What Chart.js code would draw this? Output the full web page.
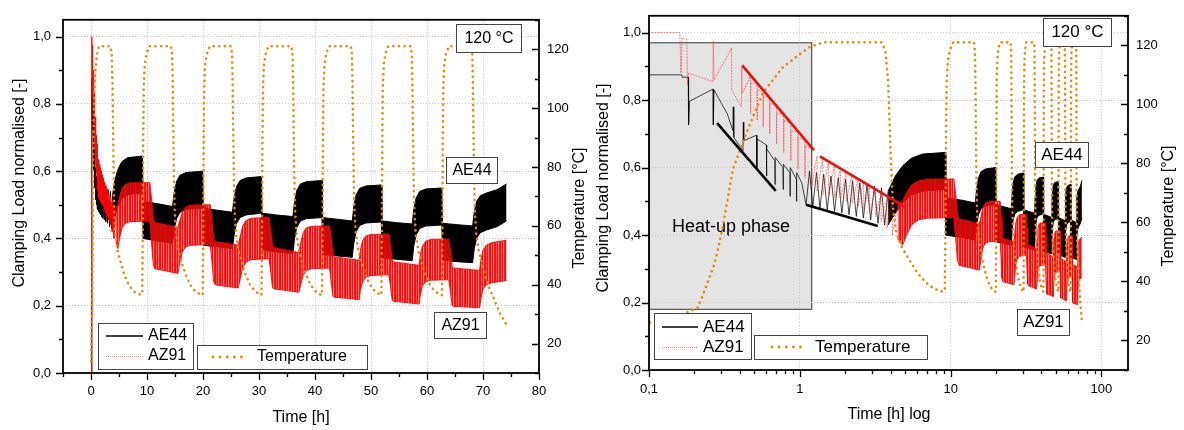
<!DOCTYPE html>
<html>
<head>
<meta charset="utf-8">
<script src="https://cdn.jsdelivr.net/npm/chart.js@4.4.1/dist/chart.umd.min.js"></script>
<style>
  body { margin: 0; background: #fff; }
  #wrap { position: relative; width: 1184px; height: 430px; }
  canvas { position: absolute; top: 0; }
  #linChart { left: 0; }
  #logChart { left: 590px; }
</style>
</head>
<body>
<div id="wrap">
  <canvas id="linChart" width="590" height="430"></canvas>
  <canvas id="logChart" width="594" height="430"></canvas>
</div>
<script>
// ---- Messdaten (Zeit in h, Klemmkraft normiert, Temperatur in °C) ----

// AE44: erste Lastwechsel als Einzellinie
const ae44StartTime = [0.01, 0.1, 0.165, 0.166, 0.182, 0.183, 0.186, 0.266, 0.267, 0.27, 0.33, 0.36, 0.362, 0.365, 0.42, 0.422, 0.425,
  0.517, 0.519, 0.521, 0.6, 0.602, 0.604, 0.683, 0.685, 0.687, 0.774, 0.776, 0.778, 0.86, 0.862, 0.864, 0.95, 0.952, 0.954, 1.03,
  1.1, 1.16, 1.22, 1.29, 1.36, 1.44, 1.52, 1.61, 1.7, 1.8, 1.9, 2.01, 2.12, 2.24, 2.37, 2.5, 2.64, 2.79, 2.95, 3.12, 3.3, 3.48, 3.65, 3.85];
const ae44StartLoad = [0, 0.875, 0.875, 0.868, 0.868, 0.727, 0.797, 0.833, 0.727, 0.83, 0.76, 0.71, 0.78, 0.69, 0.65, 0.735, 0.68,
  0.696, 0.60, 0.685, 0.667, 0.575, 0.655, 0.62, 0.55, 0.63, 0.60, 0.535, 0.61, 0.585, 0.515, 0.60, 0.565, 0.50, 0.585, 0.555,
  0.49, 0.59, 0.485, 0.585, 0.48, 0.58, 0.475, 0.575, 0.47, 0.57, 0.465, 0.565, 0.46, 0.56, 0.455, 0.555, 0.45, 0.55, 0.445, 0.545, 0.435, 0.54, 0.43, 0.53];

// AZ91: erste Lastwechsel als Einzellinie
const az91StartTime = [0.01, 0.1, 0.16, 0.163, 0.166, 0.178, 0.18, 0.183, 0.265, 0.267, 0.27, 0.33, 0.352, 0.354, 0.41, 0.412, 0.415,
  0.47, 0.472, 0.474, 0.52, 0.522, 0.524, 0.57, 0.572, 0.574, 0.63, 0.632, 0.634, 0.7, 0.702, 0.704, 0.78, 0.782, 0.784,
  0.87, 0.872, 0.874, 0.97, 0.972, 0.974, 1.08, 1.082, 1.084, 1.2, 1.202, 1.3, 1.302, 1.42, 1.422, 1.55, 1.552, 1.7, 1.702,
  1.86, 1.862, 2.03, 2.032, 2.22, 2.222, 2.43, 2.432, 2.65, 2.652, 2.9, 2.902, 3.17, 3.172, 3.46, 3.462, 3.78, 3.782, 4.1, 4.102, 4.45];
const az91StartLoad = [0, 1.0, 1.0, 0.88, 0.985, 0.98, 0.845, 0.88, 0.855, 0.975, 0.86, 0.93, 0.955, 0.83, 0.78, 0.90, 0.82,
  0.87, 0.76, 0.85, 0.85, 0.74, 0.83, 0.83, 0.72, 0.81, 0.81, 0.70, 0.79, 0.785, 0.67, 0.76, 0.76, 0.645, 0.74,
  0.73, 0.62, 0.71, 0.705, 0.595, 0.69, 0.68, 0.57, 0.665, 0.655, 0.545, 0.635, 0.53, 0.628, 0.52, 0.62, 0.515, 0.61, 0.51,
  0.60, 0.505, 0.59, 0.50, 0.58, 0.495, 0.568, 0.485, 0.557, 0.475, 0.545, 0.465, 0.534, 0.455, 0.522, 0.44, 0.51, 0.42, 0.50, 0.40, 0.49];

// AE44: Schwingbreite (obere / untere Huellkurve) ab ca. 4 h
const ae44BandTime = [3.85, 4.3, 4.8, 5.5, 6.5, 9.2, 9.3, 12.0, 14.55, 14.9, 15.3, 15.9, 17.0, 19.95, 20.05, 22.5, 25.25,
  25.55, 25.95, 26.6, 27.7, 30.45, 30.55, 33.0, 36.05, 36.35, 36.75, 37.4, 38.5, 41.25, 41.35, 44.0, 46.65,
  46.95, 47.35, 48.0, 49.1, 51.85, 51.95, 54.6, 57.35, 57.65, 58.05, 58.7, 59.8, 62.65, 62.75, 65.4, 68.15,
  68.45, 68.85, 69.5, 70.6, 72.5, 74.2];
const ae44Upper = [0.53, 0.575, 0.605, 0.628, 0.64, 0.645, 0.51, 0.503, 0.495, 0.54, 0.57, 0.588, 0.596, 0.60, 0.49, 0.484, 0.478,
  0.52, 0.553, 0.572, 0.58, 0.584, 0.475, 0.47, 0.465, 0.51, 0.543, 0.562, 0.569, 0.572, 0.462, 0.457, 0.452,
  0.497, 0.53, 0.549, 0.556, 0.559, 0.452, 0.447, 0.443, 0.488, 0.52, 0.54, 0.547, 0.55, 0.445, 0.441, 0.437,
  0.48, 0.51, 0.527, 0.535, 0.545, 0.562];
const ae44Lower = [0.43, 0.465, 0.495, 0.518, 0.53, 0.535, 0.40, 0.392, 0.385, 0.43, 0.46, 0.478, 0.486, 0.49, 0.38, 0.375, 0.37,
  0.41, 0.443, 0.462, 0.47, 0.475, 0.365, 0.36, 0.355, 0.40, 0.433, 0.452, 0.459, 0.462, 0.352, 0.348, 0.344,
  0.387, 0.42, 0.439, 0.446, 0.449, 0.342, 0.338, 0.334, 0.378, 0.41, 0.43, 0.437, 0.44, 0.335, 0.331, 0.328,
  0.37, 0.40, 0.417, 0.425, 0.435, 0.452];

// AZ91: Schwingbreite ab ca. 4,5 h
const az91BandTime = [4.45, 4.8, 5.1, 5.5, 6.1, 7.0, 10.5, 10.8, 11.1, 11.4, 13.5, 15.5, 15.9, 16.3, 16.9, 17.8, 21.3,
  21.6, 21.9, 22.2, 24.3, 26.3, 26.7, 27.1, 27.7, 28.6, 31.8, 32.1, 32.4, 32.7, 35.0, 37.1, 37.5, 37.9, 38.5,
  39.4, 42.6, 42.9, 43.2, 43.5, 45.8, 47.9, 48.1, 48.5, 49.1, 50.0, 53.2, 53.5, 53.8, 54.1, 56.4, 58.6, 58.8,
  59.2, 59.8, 60.7, 63.9, 64.2, 64.5, 64.8, 67.2, 69.4, 69.6, 70.0, 70.6, 71.5, 74.2];
const az91Upper = [0.49, 0.50, 0.525, 0.548, 0.56, 0.565, 0.566, 0.52, 0.46, 0.447, 0.44, 0.432, 0.455, 0.478, 0.493, 0.499, 0.50,
  0.455, 0.40, 0.39, 0.385, 0.38, 0.41, 0.438, 0.453, 0.46, 0.462, 0.42, 0.378, 0.372, 0.365, 0.358, 0.39, 0.418, 0.432,
  0.436, 0.437, 0.40, 0.35, 0.345, 0.34, 0.335, 0.365, 0.393, 0.407, 0.412, 0.413, 0.375, 0.333, 0.33, 0.325, 0.32, 0.35,
  0.378, 0.392, 0.397, 0.398, 0.36, 0.315, 0.312, 0.308, 0.305, 0.335, 0.365, 0.38, 0.387, 0.395];
const az91Lower = [0.39, 0.37, 0.40, 0.43, 0.445, 0.45, 0.452, 0.39, 0.325, 0.31, 0.303, 0.296, 0.33, 0.36, 0.375, 0.38, 0.382,
  0.33, 0.272, 0.262, 0.257, 0.253, 0.285, 0.315, 0.33, 0.337, 0.34, 0.30, 0.255, 0.25, 0.245, 0.24, 0.265, 0.292, 0.305,
  0.31, 0.312, 0.27, 0.228, 0.225, 0.222, 0.218, 0.245, 0.272, 0.285, 0.29, 0.292, 0.255, 0.215, 0.213, 0.209, 0.205, 0.232,
  0.26, 0.272, 0.276, 0.277, 0.24, 0.20, 0.198, 0.196, 0.194, 0.22, 0.25, 0.262, 0.268, 0.275];

// Temperaturverlauf (Aufheizen, dann Zyklen 120 °C / Abkuehlen)
const tempTime = [0.02, 0.1, 0.15, 0.21, 0.24, 0.27, 0.29, 0.31, 0.33, 0.36, 0.44, 0.57, 0.77, 1.0, 1.17, 1.43, 3.5,
  3.7, 3.85, 3.95, 4.05, 4.15, 4.35, 4.7, 5.3, 6.0, 6.9, 7.8, 8.9, 9.15, 9.25, 9.32, 9.42, 9.6, 9.9, 10.4, 14.3,
  14.5, 14.6, 14.7, 14.8, 14.95, 15.2, 15.6, 16.2, 16.9, 17.7, 18.6, 19.6, 19.95, 20.05, 20.12, 20.22, 20.4, 20.7, 21.2, 25.0,
  25.2, 25.3, 25.4, 25.5, 25.65, 25.9, 26.3, 26.9, 27.6, 28.4, 29.3, 30.2, 30.45, 30.55, 30.62, 30.72, 30.9, 31.2, 31.7, 35.8,
  36.0, 36.1, 36.2, 36.3, 36.45, 36.7, 37.1, 37.7, 38.4, 39.2, 40.1, 41.0, 41.25, 41.35, 41.42, 41.52, 41.7, 42.0, 42.5, 46.4,
  46.6, 46.7, 46.8, 46.9, 47.05, 47.3, 47.7, 48.3, 49.0, 49.8, 50.7, 51.6, 51.85, 51.95, 52.02, 52.12, 52.3, 52.6, 53.1, 57.1,
  57.3, 57.4, 57.5, 57.6, 57.75, 58.0, 58.4, 59.0, 59.7, 60.5, 61.4, 62.3, 62.65, 62.75, 62.82, 62.92, 63.1, 63.4, 63.9, 67.9,
  68.1, 68.2, 68.3, 68.4, 68.55, 68.8, 69.2, 69.8, 70.5, 71.2, 71.8, 72.4, 73.1, 73.9, 74.3];
const tempValue = [14, 26, 28, 31, 38.5, 45.5, 52, 59, 67, 78, 90, 104, 112.5, 117, 119.5, 121, 121,
  118, 108, 92, 77, 65, 57, 52, 47.5, 43, 39.5, 37.5, 36.5, 37, 60, 90, 108, 115, 118.5, 121, 121,
  118, 108, 92, 77, 65, 57, 52, 47.5, 43.5, 40, 37.8, 36.6, 36.5, 60, 90, 108, 115, 118.5, 121, 121,
  118, 108, 92, 77, 65, 57, 52, 47.5, 43.5, 40, 37.8, 36.6, 36.5, 60, 90, 108, 115, 118.5, 121, 121,
  118, 108, 92, 77, 65, 57, 52, 47.5, 43.5, 40, 37.8, 36.6, 36.5, 60, 90, 108, 115, 118.5, 121, 121,
  118, 108, 92, 77, 65, 57, 52, 47.5, 43.5, 40, 37.8, 36.6, 36.5, 60, 90, 108, 115, 118.5, 121, 121,
  118, 108, 92, 77, 65, 57, 52, 47.5, 43.5, 40, 37.8, 36.6, 36.5, 60, 90, 108, 115, 118.5, 121, 121,
  118, 108, 92, 77, 65, 57, 52, 47.5, 42, 38.5, 36, 33, 30, 27.5, 26];

// Ausgleichsgeraden in der Aufheizphase (log. Darstellung)
const az91FitTime = [[0.415, 1.24], [1.36, 4.96]];
const az91FitLoad = [[0.903, 0.652], [0.633, 0.484]];
const ae44FitTime = [[0.283, 0.693], [1.10, 3.29]];
const ae44FitLoad = [[0.732, 0.531], [0.49, 0.427]];
const heatUpTime = [0.1, 1.2];
const heatUpLoad = [0.18, 0.97];

// Achsenteilung
const timeTickValues = [0, 10, 20, 30, 40, 50, 60, 70, 80];
const timeTickLabels = ['0', '10', '20', '30', '40', '50', '60', '70', '80'];
const timeMinor = [-5, 5, 15, 25, 35, 45, 55, 65, 75];
const logTickValues = [0.1, 1, 10, 100];
const logTickLabels = ['0,1', '1', '10', '100'];
const logMinor = [0.2, 0.3, 0.4, 0.5, 0.6, 0.7, 0.8, 0.9, 2, 3, 4, 5, 6, 7, 8, 9, 20, 30, 40, 50, 60, 70, 80, 90];
const loadTickValues = [0, 0.2, 0.4, 0.6, 0.8, 1.0];
const loadTickLabels = ['0,0', '0,2', '0,4', '0,6', '0,8', '1,0'];
const loadMinor = [0.1, 0.3, 0.5, 0.7, 0.9];
const tempTickValues = [20, 40, 60, 80, 100, 120];
const tempTickLabels = ['20', '40', '60', '80', '100', '120'];
const tempMinor = [10, 30, 50, 70, 90, 110, 130];

const FONT = "Arial, 'Liberation Sans', Helvetica, sans-serif";
const ORANGE = '#e58a0e';

function pts(xs, ys) {
    return xs.map((x, i) => ({x: x, y: ys[i]}));
}

function findIdx(arr, v) {
    return arr.findIndex(a => Math.abs(a - v) < 1e-9 * Math.max(1, Math.abs(a)));
}

function tickList(major, minor) {
    return major.concat(minor).sort((a, b) => a - b).map(v => ({value: v}));
}

// Streifenmuster fuer die AZ91-Flaeche (dichte Einzellinien)
function stripes(ctx) {
    const c = document.createElement('canvas');
    c.width = 5; c.height = 1;
    const g = c.getContext('2d');
    const cols = ['rgba(255,0,0,0.97)', 'rgba(255,25,25,0.72)', 'rgba(240,0,0,0.93)', 'rgba(255,50,50,0.62)', 'rgba(255,0,0,0.9)'];
    cols.forEach((col, i) => { g.fillStyle = col; g.fillRect(i, 0, 1, 1); });
    return ctx.createPattern(c, 'repeat');
}

function buildDatasets(ctx, isLog) {
    // in der linearen Darstellung liegen die ersten Zyklen dicht beieinander -> kraeftiger zeichnen
    const aeStart = isLog ? 'rgba(0,0,0,0.72)' : 'rgba(0,0,0,0.9)';
    const azStart = isLog ? 'rgba(255,40,40,0.6)' : 'rgba(255,0,0,0.85)';
    const ds = [
        {data: pts(ae44BandTime, ae44Upper), borderColor: '#000', backgroundColor: '#000', borderWidth: 1, fill: '+1', order: 10},
        {data: pts(ae44BandTime, ae44Lower), borderColor: '#000', borderWidth: 1, fill: false, order: 10},
        {data: pts(az91BandTime, az91Upper), borderColor: 'rgba(255,0,0,0.9)', backgroundColor: stripes(ctx), borderWidth: 1, fill: '+1', order: 9},
        {data: pts(az91BandTime, az91Lower), borderColor: 'rgba(255,0,0,0.9)', borderWidth: 1, fill: false, order: 9},
        {data: pts(ae44StartTime, ae44StartLoad), borderColor: aeStart, borderWidth: 1, fill: false, order: 8},
        {data: pts(az91StartTime, az91StartLoad), borderColor: azStart, borderWidth: 1, borderDash: isLog ? [2, 1] : [], fill: false, order: 7},
        {data: pts(tempTime, tempValue), yAxisID: 'y2', borderColor: ORANGE, borderWidth: 2.6, borderDash: [0.1, 5.5],
            borderCapStyle: 'round', fill: false, order: 5}
    ];
    if (isLog) {
        az91FitTime.forEach((t, i) => ds.push({data: pts(t, az91FitLoad[i]), borderColor: '#ee1111', borderWidth: 2.6, fill: false, order: 1}));
        ae44FitTime.forEach((t, i) => ds.push({data: pts(t, ae44FitLoad[i]), borderColor: '#000', borderWidth: 2.6, fill: false, order: 1}));
    }
    return ds;
}

function text(ctx, str, x, y, size, align, rot) {
    ctx.save();
    ctx.translate(x, y);
    if (rot) ctx.rotate(rot);
    ctx.font = size + 'px ' + FONT;
    ctx.fillStyle = '#000';
    ctx.textAlign = align || 'center';
    ctx.textBaseline = 'middle';
    ctx.fillText(str, 0, 0);
    ctx.restore();
}

function whiteBox(ctx, b) {
    ctx.fillStyle = '#fff';
    ctx.fillRect(b[0], b[1], b[2], b[3]);
    ctx.strokeStyle = '#444';
    ctx.lineWidth = 1;
    ctx.strokeRect(b[0] + 0.5, b[1] + 0.5, b[2], b[3]);
}

// Rahmen, Teilstriche, Achsentitel, Legende und Beschriftungen
const decoPlugin = {
    id: 'deco',
    beforeDraw(chart, args, o) {
        if (!o.heatUp) return;
        const {ctx, scales: {x, y}} = chart;
        const x0 = x.getPixelForValue(heatUpTime[0]), x1 = x.getPixelForValue(heatUpTime[1]);
        const y0 = y.getPixelForValue(heatUpLoad[1]), y1 = y.getPixelForValue(heatUpLoad[0]);
        ctx.save();
        ctx.fillStyle = '#e3e3e3';
        ctx.fillRect(x0, y0, x1 - x0, y1 - y0);
        ctx.strokeStyle = '#333';
        ctx.lineWidth = 1;
        ctx.strokeRect(x0, y0, x1 - x0, y1 - y0);
        ctx.restore();
        text(ctx, 'Heat-up phase', o.heatUp.text[0], o.heatUp.text[1], 18);
    },
    afterDraw(chart, args, o) {
        const {ctx, chartArea: a, scales} = chart;
        ctx.save();
        ctx.strokeStyle = '#000';
        ctx.lineWidth = 1.3;
        ctx.beginPath();
        scales.x.ticks.forEach(t => {
            const px = Math.round(scales.x.getPixelForValue(t.value)) + 0.5;
            const len = findIdx(o.majors.x, t.value) >= 0 ? 7 : 4;
            ctx.moveTo(px, a.bottom); ctx.lineTo(px, a.bottom + len);
        });
        scales.y.ticks.forEach(t => {
            const py = Math.round(scales.y.getPixelForValue(t.value)) + 0.5;
            const len = findIdx(o.majors.y, t.value) >= 0 ? 7 : 4;
            ctx.moveTo(a.left - len, py); ctx.lineTo(a.left, py);
        });
        scales.y2.ticks.forEach(t => {
            const py = Math.round(scales.y2.getPixelForValue(t.value)) + 0.5;
            const len = findIdx(o.majors.y2, t.value) >= 0 ? 7 : 4;
            ctx.moveTo(a.right - len, py); ctx.lineTo(a.right, py);
        });
        ctx.stroke();
        ctx.lineWidth = 1.8;
        ctx.strokeRect(a.left, a.top, a.right - a.left, a.bottom - a.top);
        ctx.restore();

        text(ctx, 'Clamping Load normalised [-]', o.yTitle[0], o.yTitle[1], 16, 'center', -Math.PI / 2);
        text(ctx, 'Temperature [°C]', o.y2Title[0], o.y2Title[1], 16, 'center', -Math.PI / 2);
        text(ctx, o.xTitle[2], o.xTitle[0], o.xTitle[1], 16);

        // Beschriftungskaesten
        ctx.save();
        o.labels.forEach(l => {
            whiteBox(ctx, l.box);
            text(ctx, l.text, l.box[0] + l.box[2] / 2 + 0.5, l.box[1] + l.box[3] / 2 + 0.5, o.size);
        });

        // Legende
        const lg = o.legend;
        whiteBox(ctx, lg.box1);
        whiteBox(ctx, lg.box2);
        ctx.lineCap = 'butt';
        ctx.strokeStyle = '#000';
        ctx.lineWidth = 1.3;
        ctx.beginPath(); ctx.moveTo(lg.line[0], lg.rows[0]); ctx.lineTo(lg.line[1], lg.rows[0]); ctx.stroke();
        ctx.strokeStyle = 'rgba(255,70,70,0.75)';
        ctx.lineWidth = 1;
        ctx.setLineDash([1, 1]);
        ctx.beginPath(); ctx.moveTo(lg.line[0], lg.rows[1] + 0.5); ctx.lineTo(lg.line[1], lg.rows[1] + 0.5); ctx.stroke();
        ctx.strokeStyle = ORANGE;
        ctx.lineWidth = 2.8;
        ctx.lineCap = 'round';
        ctx.setLineDash([0.1, 7]);
        ctx.beginPath(); ctx.moveTo(lg.dots[0], lg.dots[2]); ctx.lineTo(lg.dots[1], lg.dots[2]); ctx.stroke();
        ctx.restore();
        text(ctx, 'AE44', lg.textX, lg.rows[0], o.size, 'left');
        text(ctx, 'AZ91', lg.textX, lg.rows[1], o.size, 'left');
        text(ctx, 'Temperature', lg.dots[3], lg.dots[2], o.size, 'left');
    }
};

function axisFont() {
    return {family: FONT, size: 13};
}

function makeScales(kind) {
    const isLog = kind === 'log';
    const xMajor = isLog ? logTickValues : timeTickValues;
    const xLabels = isLog ? logTickLabels : timeTickLabels;
    const xMinor = isLog ? logMinor : timeMinor;
    return {
        x: {
            type: isLog ? 'logarithmic' : 'linear',
            min: isLog ? 0.1 : -5,
            max: isLog ? 150 : 80,
            afterBuildTicks: s => { s.ticks = tickList(xMajor, xMinor); },
            afterFit: s => { s.height = isLog ? 60 : 57; },
            ticks: {
                autoSkip: false, maxRotation: 0, color: '#000', font: axisFont(), padding: isLog ? 12 : 11,
                callback: v => { const i = findIdx(xMajor, v); return i >= 0 ? xLabels[i] : ''; }
            },
            grid: {
                drawTicks: false,
                color: c => (c.tick && findIdx(xMajor, c.tick.value) >= 0) ? '#c4c4c4' : 'rgba(0,0,0,0)'
            },
            border: {display: false, dash: [1, 2]}
        },
        y: {
            type: 'linear', position: 'left', min: 0, max: 1.05,
            afterBuildTicks: s => { s.ticks = tickList(loadTickValues, loadMinor); },
            afterFit: s => { s.width = isLog ? 59 : 63; },
            ticks: {
                autoSkip: false, color: '#000', font: axisFont(), padding: isLog ? 8 : 12,
                callback: v => { const i = findIdx(loadTickValues, v); return i >= 0 ? loadTickLabels[i] : ''; }
            },
            grid: {
                drawTicks: false,
                color: c => (c.tick && findIdx(loadTickValues, c.tick.value) >= 0) ? '#c4c4c4' : 'rgba(0,0,0,0)'
            },
            border: {display: false, dash: [1, 2]}
        },
        y2: {
            type: 'linear', position: 'right', min: 10, max: 130,
            afterBuildTicks: s => { s.ticks = tickList(tempTickValues, tempMinor); },
            afterFit: s => { s.width = isLog ? 56 : 51; },
            ticks: {
                autoSkip: false, color: '#000', font: axisFont(), padding: 8,
                callback: v => { const i = findIdx(tempTickValues, v); return i >= 0 ? tempTickLabels[i] : ''; }
            },
            grid: {display: false, drawTicks: false},
            border: {display: false}
        }
    };
}

function makeChart(id, kind, deco) {
    const canvas = document.getElementById(id);
    const ctx = canvas.getContext('2d');
    return new Chart(ctx, {
        type: 'line',
        data: {datasets: buildDatasets(ctx, kind === 'log')},
        options: {
            responsive: false,
            animation: false,
            devicePixelRatio: 1,
            layout: {padding: {top: kind === 'log' ? 7 : 13, left: 0, right: 0, bottom: 0}},
            elements: {point: {radius: 0, hitRadius: 0}, line: {tension: 0}},
            plugins: {legend: {display: false}, tooltip: {enabled: false}, deco: deco},
            scales: makeScales(kind)
        },
        plugins: [decoPlugin]
    });
}

// linke Grafik: lineare Zeitachse
makeChart('linChart', 'lin', {
    majors: {x: timeTickValues, y: loadTickValues, y2: tempTickValues},
    yTitle: [20, 183], y2Title: [580, 208], xTitle: [301, 418, 'Time [h]'],
    size: 16,
    labels: [
        {text: '120 °C', box: [456, 24, 65, 28]},
        {text: 'AE44', box: [446, 157, 51, 26]},
        {text: 'AZ91', box: [434, 312, 52, 26]}
    ],
    legend: {box1: [98, 323, 95, 46], box2: [197, 345, 170, 24], line: [106, 143], rows: [336, 356], textX: 148, dots: [213, 248, 357, 257]}
});

// rechte Grafik: logarithmische Zeitachse
makeChart('logChart', 'log', {
    majors: {x: logTickValues, y: loadTickValues, y2: tempTickValues},
    yTitle: [14, 188], y2Title: [579, 206], xTitle: [299, 415, 'Time [h] log'],
    size: 17,
    heatUp: {text: [141, 227]},
    labels: [
        {text: '120 °C', box: [453, 18, 68, 28]},
        {text: 'AE44', box: [445, 142, 53, 25]},
        {text: 'AZ91', box: [427, 309, 52, 26]}
    ],
    legend: {box1: [64, 313, 97, 46], box2: [164, 335, 173, 24], line: [72, 108], rows: [327, 347], textX: 113, dots: [182, 215, 347, 225]}
});
</script>
</body>
</html>
